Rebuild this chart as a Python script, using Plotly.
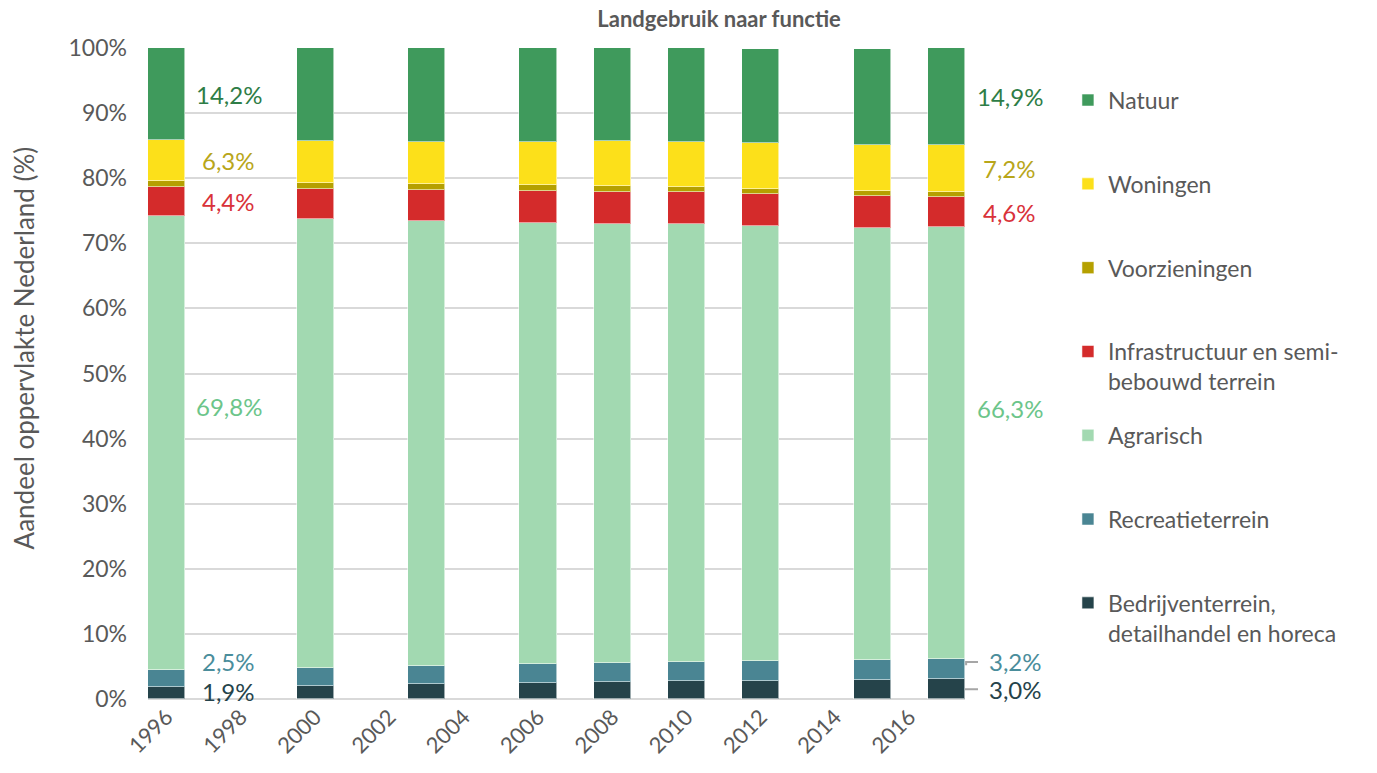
import plotly.graph_objects as go

# Land use in the Netherlands by function, share of total area (%)
years = [1996, 2000, 2003, 2006, 2008, 2010, 2012, 2015, 2017]

bedrijven = [1.9, 2.0, 2.3, 2.5, 2.6, 2.7, 2.8, 2.9, 3.0]
recreatie = [2.5, 2.7, 2.7, 2.9, 2.9, 3.0, 3.0, 3.1, 3.2]
agrarisch = [69.8, 69.0, 68.4, 67.7, 67.5, 67.2, 66.9, 66.4, 66.3]
infrastructuur = [4.4, 4.7, 4.8, 5.0, 4.9, 5.0, 4.9, 4.9, 4.6]
voorzieningen = [0.9, 0.8, 0.9, 0.8, 0.9, 0.8, 0.8, 0.8, 0.8]
woningen = [6.3, 6.5, 6.5, 6.7, 6.9, 6.9, 7.0, 7.0, 7.2]
natuur = [14.2, 14.3, 14.4, 14.4, 14.3, 14.4, 14.5, 14.8, 14.9]

series_names = [
    "Bedrijventerrein,<br>detailhandel en horeca",
    "Recreatieterrein",
    "Agrarisch",
    "Infrastructuur en semi-<br>bebouwd terrein",
    "Voorzieningen",
    "Woningen",
    "Natuur",
]
series_values = [bedrijven, recreatie, agrarisch, infrastructuur,
                 voorzieningen, woningen, natuur]
series_colors = ["#25434a", "#4a8593", "#a2d9b1", "#d42b2b",
                 "#b5a000", "#fce01a", "#3f9a5c"]
label_colors = ["#25434a", "#4a8d9b", "#6cc58a", "#d9323a",
                None, "#b8a61a", "#2e7d46"]

xtick_vals = list(range(1996, 2017, 2))
ytick_vals = list(range(0, 101, 10))
ytick_text = [f"{v}%" for v in ytick_vals]

FONT = "Lato"
GREY = "#595959"
X_MIN, X_MAX = 1995.5, 2017.5


def to_paper(year):
    return (year - X_MIN) / (X_MAX - X_MIN)


fig = go.Figure()
n_series = len(series_names)
for k, (name, vals, col) in enumerate(zip(series_names, series_values, series_colors)):
    fig.add_trace(go.Bar(
        x=years, y=vals, name=name + ("" if "<br>" in name else "<br> "),
        legendgroup=name, legendrank=n_series - k, width=1.0,
        marker=dict(color=col, line=dict(color="rgba(255,255,255,0.55)", width=1)),
        hoverinfo="x+y+name",
    ))


def fmt(v):
    return f"{v:.1f}%".replace(".", ",")


def bottoms(idx):
    return [sum(series_values[k][i] for k in range(idx)) for i in range(len(years))]


annotations = []
shapes = []

left_x = to_paper(1997.68)
right_x = to_paper(2018.71)
right_left_x = to_paper(2018.09)
last = len(years) - 1
for k, vals in enumerate(series_values):
    if label_colors[k] is None:
        continue
    b = bottoms(k)
    for i, xpos in ((0, left_x), (last, right_x)):
        v = vals[i]
        mid = b[i] + v / 2
        ypos = mid
        xanchor = "center"
        xx = xpos
        if k == 2:  # Agrarisch label sits a bit above the segment middle
            ypos = b[i] + 0.58 * v
        if k == 1:
            ypos = b[i] + v + 1.4 if i == 0 else b[i] + v - 0.5
        if k == 0:
            ypos = mid + 0.25 if i == 0 else mid
        if i == last and k in (0, 1):
            xx = right_left_x
            xanchor = "left"
        annotations.append(dict(
            x=xx, y=ypos, xref="paper", yref="y", text=fmt(v), showarrow=False,
            xanchor=xanchor, yanchor="middle",
            font=dict(family=FONT, size=24, color=label_colors[k]),
        ))

# leader lines for the two small segments of the last bar
edge = to_paper(years[last] + 0.5)
stub = to_paper(years[last] + 0.53)
tip = to_paper(years[last] + 0.85)
rec_label_y = bedrijven[last] + recreatie[last] - 0.5
bed_mid = bedrijven[last] / 2
shapes.append(dict(
    type="path", xref="paper", yref="y",
    path=f"M {stub},{rec_label_y - 0.5} L {stub},{rec_label_y} L {tip},{rec_label_y}",
    line=dict(color="#a6a6a6", width=2),
))
shapes.append(dict(
    type="line", xref="paper", yref="y", x0=edge, x1=tip,
    y0=bed_mid, y1=bed_mid, line=dict(color="#a6a6a6", width=2),
))

annotations.append(dict(
    x=-0.1506, y=0.54, xref="paper", yref="paper", xanchor="center", yanchor="middle",
    text="Aandeel oppervlakte Nederland (%)", textangle=-90, showarrow=False,
    font=dict(family=FONT, size=26, color=GREY),
))

fig.update_layout(
    width=1377, height=773,
    margin=dict(l=148, r=412, t=48, b=74),
    paper_bgcolor="white", plot_bgcolor="white",
    barmode="stack", bargap=0,
    font=dict(family=FONT, color=GREY, size=22),
    title=dict(text="<b>Landgebruik naar functie</b>", x=0.699, xref="paper",
               xanchor="center", y=0.975, yanchor="middle",
               font=dict(family=FONT, size=22, color=GREY)),
    xaxis=dict(range=[X_MIN, X_MAX], tickvals=xtick_vals, tickangle=-45,
               showgrid=False, zeroline=False, showline=False, ticks="",
               tickfont=dict(family=FONT, size=22, color=GREY)),
    yaxis=dict(range=[0, 100], tickvals=ytick_vals, ticktext=ytick_text,
               showgrid=True, gridcolor="#d9d9d9", gridwidth=1.5,
               zeroline=True, zerolinecolor="#d9d9d9", zerolinewidth=1.5,
               showline=False, ticks="", ticklabelstandoff=20,
               tickfont=dict(family=FONT, size=23, color=GREY)),
    legend=dict(x=1.126, xanchor="left", y=0.953, yanchor="top",
                traceorder="grouped", tracegroupgap=21, valign="top",
                font=dict(family=FONT, size=23, color=GREY),
                itemwidth=30, bgcolor="rgba(0,0,0,0)"),
    annotations=annotations,
    shapes=shapes,
    showlegend=True,
)

fig.write_html("out.html")
